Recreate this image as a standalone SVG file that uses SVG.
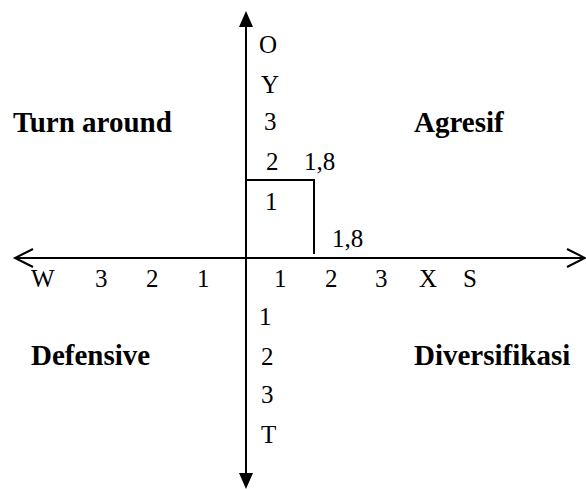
<svg xmlns="http://www.w3.org/2000/svg" width="586" height="489" viewBox="0 0 586 489">
<rect width="586" height="489" fill="#fff"/>
<g id="connectors" stroke="#000" stroke-width="2" fill="none">
<line x1="246" y1="22" x2="246" y2="478"/>
<polygon points="246,11 239,27 253,27" fill="#000" stroke="none"/>
<polygon points="246,489 239,473 253,473" fill="#000" stroke="none"/>
<line x1="15" y1="258" x2="585" y2="258"/>
<polyline points="33,249 15,258 33,267"/>
<polyline points="567,249 585,258 567,267"/>
<polyline points="246,180 314,180 314,254"/>
</g>
<g id="axis-labels">
<text x="259" y="53" font-family="Liberation Serif" font-size="25">O</text>
<text x="261" y="93" font-family="Liberation Serif" font-size="25">Y</text>
<text x="264" y="130" font-family="Liberation Serif" font-size="25">3</text>
<text x="266" y="170" font-family="Liberation Serif" font-size="25">2</text>
<text x="304" y="170" font-family="Liberation Serif" font-size="25">1,8</text>
<text x="265" y="210" font-family="Liberation Serif" font-size="25">1</text>
<text x="332" y="247" font-family="Liberation Serif" font-size="25">1,8</text>
<text x="31" y="287" font-family="Liberation Serif" font-size="25">W</text>
<text x="95" y="287" font-family="Liberation Serif" font-size="25">3</text>
<text x="146" y="287" font-family="Liberation Serif" font-size="25">2</text>
<text x="197" y="287" font-family="Liberation Serif" font-size="25">1</text>
<text x="274" y="287" font-family="Liberation Serif" font-size="25">1</text>
<text x="325" y="287" font-family="Liberation Serif" font-size="25">2</text>
<text x="375" y="287" font-family="Liberation Serif" font-size="25">3</text>
<text x="419" y="287" font-family="Liberation Serif" font-size="25">X</text>
<text x="463" y="287" font-family="Liberation Serif" font-size="25">S</text>
<text x="259" y="325" font-family="Liberation Serif" font-size="25">1</text>
<text x="261" y="365" font-family="Liberation Serif" font-size="25">2</text>
<text x="261" y="403" font-family="Liberation Serif" font-size="25">3</text>
<text x="261" y="443" font-family="Liberation Serif" font-size="25">T</text>
</g>
<g id="quadrant-labels">
<text x="13" y="132" font-family="Liberation Serif" font-size="29" font-weight="bold">Turn around</text>
<text x="414" y="132" font-family="Liberation Serif" font-size="29" font-weight="bold">Agresif</text>
<text x="31" y="365" font-family="Liberation Serif" font-size="29" font-weight="bold">Defensive</text>
<text x="414" y="365" font-family="Liberation Serif" font-size="29" font-weight="bold">Diversifikasi</text>
</g>
</svg>
